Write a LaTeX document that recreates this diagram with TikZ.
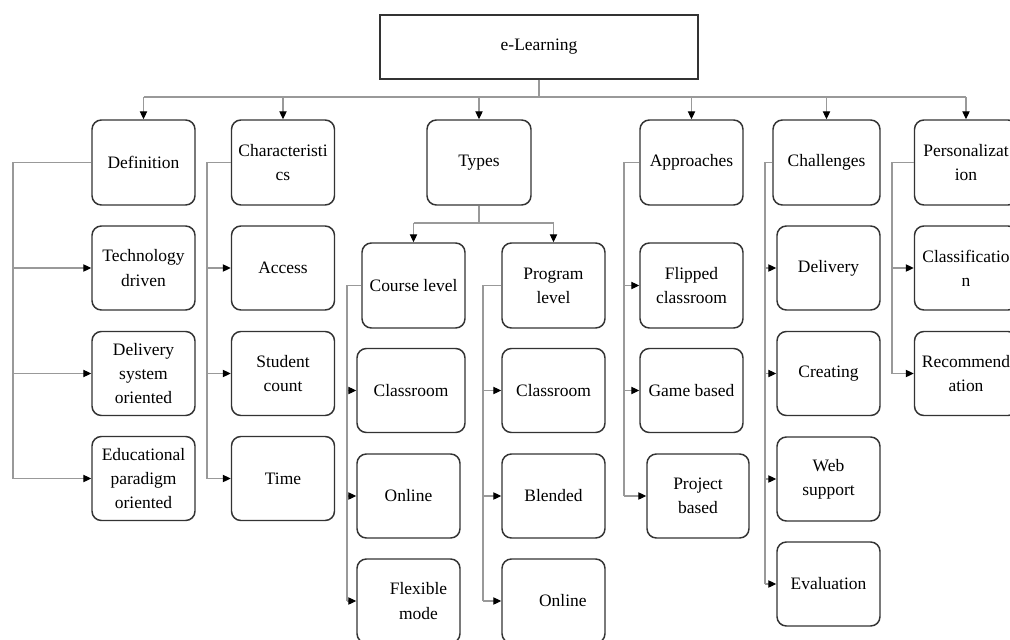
\documentclass[tikz,border=0pt]{standalone}
\usepackage{fontspec}
\setmainfont{Liberation Serif}
\usetikzlibrary{arrows.meta}
\begin{document}
\begin{tikzpicture}[x=0.75pt,y=-0.75pt,
  box/.style={draw=black!80, line width=1.1pt, rounded corners=7pt, align=center,
    inner sep=0pt, font=\fontsize{13.1}{18.2}\selectfont,
    minimum width=77.25pt, minimum height=63pt},
  conn/.style={draw=black!40, line width=0.8pt},
  arr/.style={conn, -{Triangle[length=6pt,width=5.5pt,color=black]}}]
\useasboundingbox (0,0) rectangle (1010,639);
\fill[white] (0,0) rectangle (1010,639);
\clip (0,0) rectangle (1010,639);

% root
\node[box, rounded corners=0pt, minimum width=238.5pt, minimum height=48pt] (root) at (539,47) {e-Learning};

% level 1
\node[box, minimum height=63.75pt] (def)   at (143.5,162.5) {Definition};
\node[box, minimum height=63.75pt] (char)  at (283,162.5)   {Characteristi\\cs};
\node[box, minimum height=63.75pt, minimum width=78pt] (types) at (479,162.5) {Types};
\node[box, minimum height=63.75pt] (appr)  at (691.5,162.5) {Approaches};
\node[box, minimum height=63.75pt, minimum width=80.25pt] (chal) at (826.5,162.5) {Challenges};
\node[box, minimum height=63.75pt] (pers)  at (966,162.5)   {Personalizat\\ion};

% definition children
\node[box] (tech)  at (143.5,268)   {Technology\\driven};
\node[box] (deliv) at (143.5,373.5) {Delivery\\system\\oriented};
\node[box] (edu)   at (143.5,478.5) {Educational\\paradigm\\oriented};

% characteristics children
\node[box] (access)  at (283,268)   {Access};
\node[box] (student) at (283,373.5) {Student\\count};
\node[box] (time)    at (283,478.5) {Time};

% types children
\node[box, minimum height=63.75pt] (course) at (413.5,285.5) {Course level};
\node[box, minimum height=63.75pt] (prog)   at (553.5,285.5) {Program\\level};
\node[box, minimum width=81pt] (cclass) at (411,390.5) {Classroom};
\node[box] (conline) at (408.5,496) {Online};
\node[box] (cflex)   at (408.5,601) {\hspace*{15pt}Flexible\\\hspace*{15pt}mode};
\node[box] (pclass)  at (553.5,390.5) {Classroom};
\node[box] (pblend)  at (553.5,496) {Blended};
\node[box] (ponline) at (553.5,601) {\hspace*{14pt}Online};

% approaches children
\node[box, minimum height=63.75pt] (flip) at (691.5,285.5) {Flipped\\classroom};
\node[box] (game) at (691.5,390.5) {Game based};
\node[box, minimum width=76.5pt] (proj) at (698,496) {Project\\based};

% challenges children
\node[box] (cdeliv) at (828.5,268)   {Delivery};
\node[box] (create) at (828.5,373.5) {Creating};
\node[box] (web)    at (828.5,479)   {Web\\support};
\node[box] (eval)   at (828.5,584)   {Evaluation};

% personalization children
\node[box] (classif) at (966,268)   {Classificatio\\n};
\node[box] (recomm)  at (966,373.5) {Recommend\\ation};

% top bus
\coordinate (bus) at (0,97);
\draw[conn] (root.south) -- (root.south |- bus);
\draw[conn] (def.north |- bus) -- (pers.north |- bus);
\foreach \n in {def,char,types,appr,chal,pers}
  \draw[arr] (\n.north |- bus) -- (\n.north);

% types bus
\coordinate (tbus) at (0,223);
\draw[conn] (types.south) -- (types.south |- tbus);
\draw[conn] (course.north |- tbus) -- (prog.north |- tbus);
\draw[arr] (course.north |- tbus) -- (course.north);
\draw[arr] (prog.north |- tbus) -- (prog.north);

% side branches
\coordinate (dx) at (13,0);
\draw[conn] (def.west) -| (dx |- edu.west);
\foreach \n in {tech,deliv,edu} \draw[arr] (dx |- \n.west) -- (\n.west);

\coordinate (chx) at (207,0);
\draw[conn] (char.west) -| (chx |- time.west);
\foreach \n in {access,student,time} \draw[arr] (chx |- \n.west) -- (\n.west);

\coordinate (cox) at (347,0);
\draw[conn] (course.west) -| (cox |- cflex.west);
\foreach \n in {cclass,conline,cflex} \draw[arr] (cox |- \n.west) -- (\n.west);

\coordinate (prx) at (483,0);
\draw[conn] (prog.west) -| (prx |- ponline.west);
\foreach \n in {pclass,pblend,ponline} \draw[arr] (prx |- \n.west) -- (\n.west);

\coordinate (apx) at (624,0);
\draw[conn] (appr.west) -| (apx |- proj.west);
\foreach \n in {flip,game,proj} \draw[arr] (apx |- \n.west) -- (\n.west);

\coordinate (chlx) at (765,0);
\draw[conn] (chal.west) -| (chlx |- eval.west);
\foreach \n in {cdeliv,create,web,eval} \draw[arr] (chlx |- \n.west) -- (\n.west);

\coordinate (pex) at (892,0);
\draw[conn] (pers.west) -| (pex |- recomm.west);
\foreach \n in {classif,recomm} \draw[arr] (pex |- \n.west) -- (\n.west);
\end{tikzpicture}
\end{document}
